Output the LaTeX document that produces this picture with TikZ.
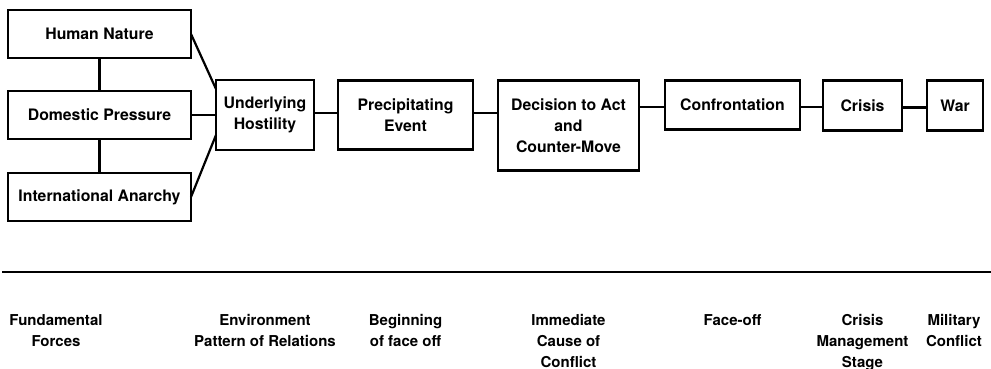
\documentclass[tikz,border=0pt]{standalone}
\usepackage{fontspec}
\setmainfont{TeX Gyre Heros}
\usetikzlibrary{positioning}

\begin{document}
\begin{tikzpicture}[x=1pt, y=-1pt, line width=2.2pt, node distance=25pt,
                    font=\fontsize{15.8}{21}\selectfont\bfseries]
    \tikzstyle{box}=[draw, align=center, inner sep=0pt, outer sep=0pt]
    \tikzstyle{stage}=[align=center, inner sep=0pt, anchor=north,
                       font=\fontsize{15}{21}\selectfont\bfseries]

    \useasboundingbox (0,0) rectangle (991,368);

    \node[box, minimum width=183pt, minimum height=48pt] (nature) at (99.5,34) {Human Nature};
    \node[box, minimum width=183pt, minimum height=48pt] (domestic) [below=33pt of nature] {Domestic Pressure};
    \node[box, minimum width=183pt, minimum height=48pt] (anarchy) [below=34pt of domestic] {International Anarchy};
    \node[box, minimum width=98pt, minimum height=70pt] (hostility) [right=of domestic] {Underlying\\Hostility};
    \node[box, minimum width=135pt, minimum height=69pt] (event) [right=24pt of hostility] {Precipitating\\Event};
    \node[box, minimum width=141pt, minimum height=90pt, anchor=north west] (decision)
        at ([xshift=25pt]event.north east) {Decision to Act\\and\\Counter-Move};
    \node[box, minimum width=135pt, minimum height=49pt, anchor=north west] (confront)
        at ([xshift=26pt]decision.north east) {Confrontation};
    \node[box, minimum width=79pt, minimum height=50pt, anchor=north west] (crisis)
        at ([xshift=23pt]confront.north east) {Crisis};
    \node[box, minimum width=56pt, minimum height=50pt, anchor=north west] (war)
        at ([xshift=25pt]crisis.north east) {War};

    \draw (nature) -- (domestic);
    \draw (domestic) -- (anarchy);
    \draw (nature.east) -- ([yshift=-9pt]hostility.north west);
    \draw (domestic) -- (hostility);
    \draw (anarchy.east) -- ([yshift=15pt]hostility.south west);
    \draw ([yshift=2pt]hostility.east) -- ([yshift=2pt]event.west);
    \draw ([yshift=2pt]event.east) -- ([yshift=2pt]event.east -| decision.west);
    \draw ([yshift=-2pt]decision.east |- confront.west) -- ([yshift=-2pt]confront.west);
    \draw ([yshift=-2pt]confront.east) -- ([yshift=-2pt]confront.east -| crisis.west);
    \draw ([yshift=-2pt]crisis.east) -- ([yshift=-2pt]crisis.east -| war.west);

    % time line
    \draw[line width=2.4pt] (2,272) -- (991,272);

    \coordinate (labels) at (0,313);
    \node[stage] (fundamental) at (56,313) {Fundamental\\Forces};
    \node[stage] (environment) at (hostility |- labels) {Environment\\Pattern of Relations};
    \node[stage] (beginning) at (event |- labels) {Beginning\\of face off};
    \node[stage] (immediate) at (decision |- labels) {Immediate\\Cause of\\Conflict};
    \node[stage] (faceoff) at (confront |- labels) {Face-off};
    \node[stage] (management) at (crisis |- labels) {Crisis\\Management\\Stage};
    \node[stage, anchor=north east] (military) at (war.east |- labels) {Military\\Conflict};
\end{tikzpicture}
\end{document}
